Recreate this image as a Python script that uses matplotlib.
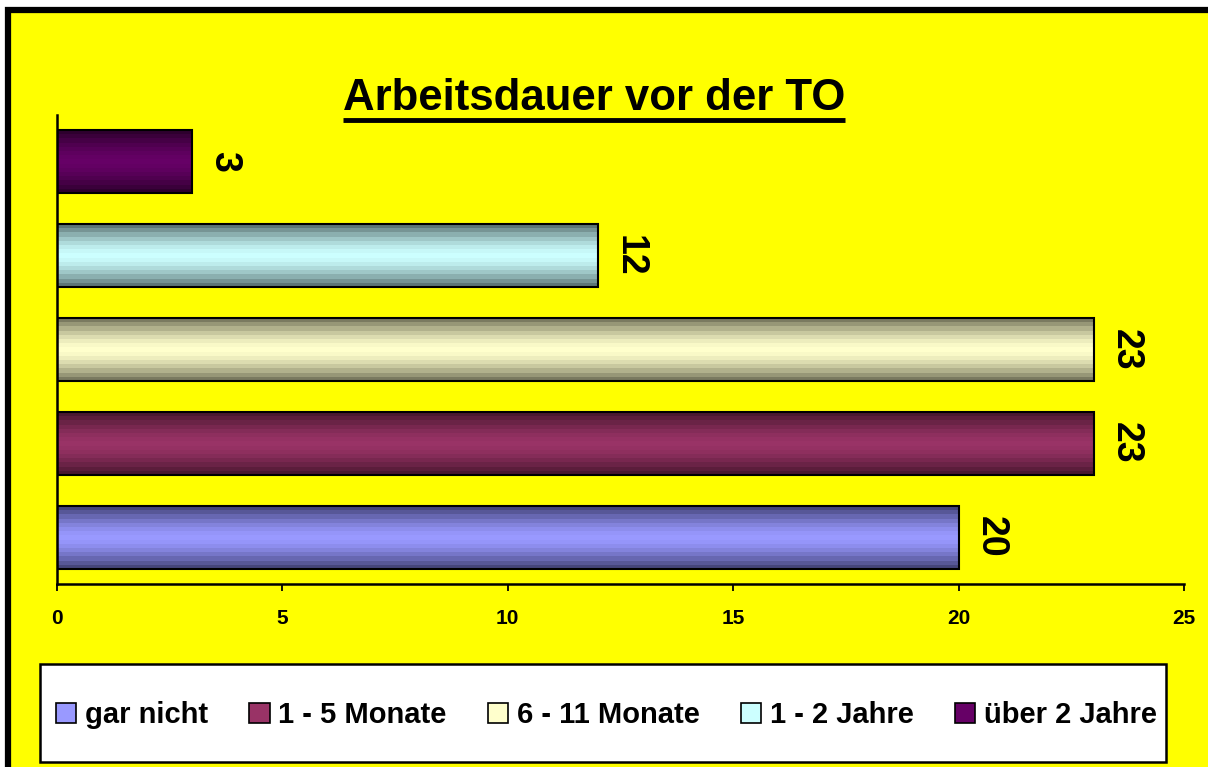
import numpy as np
import matplotlib
matplotlib.use("Agg")
import matplotlib.pyplot as plt
from matplotlib.patches import Rectangle, Patch
from matplotlib.lines import Line2D
from matplotlib.colors import to_rgb

# data
categories = ["gar nicht", "1 - 5 Monate", "6 - 11 Monate", "1 - 2 Jahre", "über 2 Jahre"]
values = [20, 23, 23, 12, 3]
x_ticks = [0, 5, 10, 15, 20, 25]
title = "Arbeitsdauer vor der TO"

# light (middle) and dark (edge) colour for each bar
light_cols = ["#9999FF", "#993366", "#FFFFCC", "#CCFFFF", "#660066"]
dark_cols = ["#45457A", "#4A1830", "#7A7A60", "#5E7777", "#2E002E"]

plt.rcParams['font.family'] = ['Liberation Sans', 'DejaVu Sans']
plt.rcParams['font.weight'] = 'bold'

W, H = 1208, 767
fig = plt.figure(figsize=(W / 100, H / 100), dpi=100)
fig.patch.set_facecolor("white")

# yellow chart area with black frame (right/bottom edges cut off)
fig.add_artist(Rectangle((8 / W, -0.05), 1.1, 1 - 10 / H + 0.05, transform=fig.transFigure,
                         facecolor="#FFFF00", edgecolor="black", linewidth=4.5, zorder=0))

ax = fig.add_axes([57 / W, 1 - 584 / H, (1184 - 57) / W, (584 - 115) / H])
ax.set_facecolor("none")

y = np.arange(len(categories))
bar_h = 0.67
bars = ax.barh(y, values, height=bar_h, color="none", edgecolor="black", linewidth=1.5, zorder=3)


def banded(light, dark, n=15):
    t = np.abs(np.linspace(-1, 1, n)) ** 1.6
    l = np.array(to_rgb(light))
    d = np.array(to_rgb(dark))
    return (l[None, :] * (1 - t[:, None]) + d[None, :] * t[:, None])[:, None, :]


for b, lc, dc, v in zip(bars, light_cols, dark_cols, values):
    x0, y0 = b.get_x(), b.get_y()
    ax.imshow(banded(lc, dc), extent=[x0, x0 + b.get_width(), y0, y0 + b.get_height()],
              aspect="auto", interpolation="nearest", zorder=2)
    ax.annotate(str(v), (v, y0 + b.get_height() / 2), xytext=(10, 0), textcoords="offset points",
                rotation=270, ha="left", va="center", fontsize=27, fontweight="bold")

ax.set_xlim(0, 25)
ax.set_ylim(-0.5, len(categories) - 0.5)
ax.set_xticks(x_ticks)
ax.set_xticklabels([str(t) for t in x_ticks], fontsize=15, fontweight="bold")
ax.set_yticks([])
ax.tick_params(axis="x", direction="out", length=5, width=1.3, pad=13)
for s in ["top", "right"]:
    ax.spines[s].set_visible(False)
for s in ["left", "bottom"]:
    ax.spines[s].set_linewidth(1.8)

# title with underline
t = fig.text(594 / W, 1 - 98 / H, title, ha="center", va="center", fontsize=31.5, fontweight="bold")
fig.canvas.draw()
bb = t.get_window_extent().transformed(fig.transFigure.inverted())
fig.add_artist(Line2D([bb.x0, bb.x1], [bb.y0 - 1 / H, bb.y0 - 1 / H], color="black", linewidth=3.5,
                      transform=fig.transFigure, solid_capstyle="butt"))

# legend box
fig.add_artist(Rectangle((40 / W, 1 - 762 / H), (1166 - 40) / W, (762 - 664) / H,
                         transform=fig.transFigure, facecolor="white", edgecolor="black",
                         linewidth=1.8, zorder=1))
handles = [Patch(facecolor=lc, edgecolor="black", linewidth=1.2) for lc in light_cols]
leg = fig.legend(handles, categories, loc="center", ncol=5,
                 bbox_to_anchor=(56 / W, 1 - 764 / H, (1157 - 56) / W, (762 - 664) / H),
                 mode="expand", fontsize=21, frameon=False,
                 handlelength=0.7, handleheight=0.7, handletextpad=0.3, columnspacing=0.8,
                 borderaxespad=0, borderpad=0)
leg.set_zorder(2)
for txt in leg.get_texts():
    txt.set_fontweight("bold")

fig.savefig("out.png", dpi=100, facecolor=fig.get_facecolor())
